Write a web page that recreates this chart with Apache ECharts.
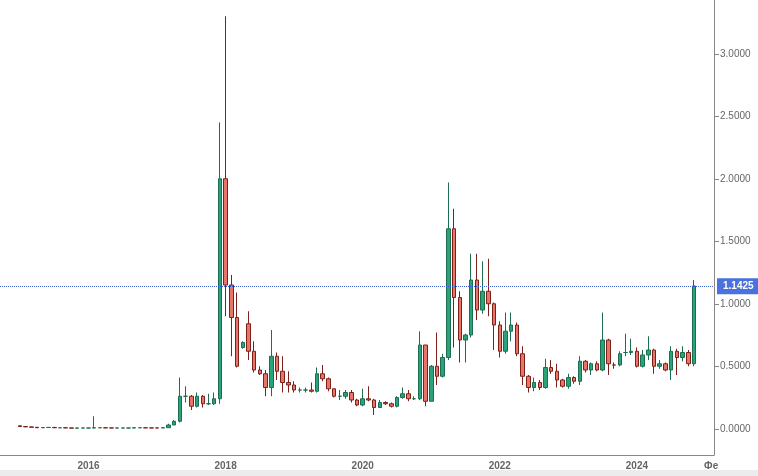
<!DOCTYPE html>
<html>
<head>
<meta charset="utf-8">
<script src="https://cdn.jsdelivr.net/npm/echarts@6/dist/echarts.min.js"></script>
<style>
  html, body { margin: 0; padding: 0; background: #fff; }
  #chart { width: 758px; height: 476px; }
</style>
</head>
<body>
<div id="chart"></div>
<script>
// monthly candles, Jan 2015 .. Nov 2024
const opens = [
  .024, .018, .015, .012, .008, .010, .011, .008, .008, .007, .005, .006,
  .006, .006, .008, .008, .007, .006, .006, .006, .006, .008, .008, .007,
  .0065, .0063, .0084, .03, .06, .26, .26, .18, .26, .20, .20, .24,
  2.0, 1.15, .89, .65, .84, .62, .47, .44, .33, .58, .46, .37,
  .35, .31, .31, .31, .30, .44, .40, .32, .26, .26, .29, .23,
  .19, .24, .23, .17, .21, .20, .18, .25, .28, .24, .24, .67,
  .22, .50, .42, .57, 1.60, 1.05, .71, .75, 1.19, .95, 1.10, 1.00,
  .83, .62, .78, .83, .60, .42, .33, .37, .33, .49, .46, .39,
  .34, .41, .38, .54, .47, .52, .47, .71, .51, .51, .61, .61,
  .62, .50, .59, .63, .50, .52, .47, .62, .57, .61, .52
];
const closes = [
  .018, .015, .012, .008, .010, .011, .008, .008, .007, .005, .006, .006,
  .006, .008, .008, .007, .006, .006, .006, .006, .008, .008, .007, .0065,
  .0063, .0084, .03, .06, .26, .26, .18, .26, .20, .20, .24, 2.0,
  1.15, .89, .50, .69, .62, .47, .44, .33, .58, .46, .37, .35,
  .31, .31, .31, .30, .44, .40, .32, .26, .26, .29, .23, .19,
  .24, .23, .17, .21, .20, .18, .25, .28, .24, .24, .67, .22,
  .50, .42, .57, 1.60, 1.05, .71, .75, 1.19, .95, 1.10, 1.00, .83,
  .62, .78, .83, .60, .42, .33, .37, .33, .49, .46, .39, .34,
  .41, .38, .54, .47, .52, .47, .71, .52, .51, .60, .61, .62,
  .50, .59, .63, .50, .52, .47, .62, .57, .61, .52, 1.1425
];
const lows = [
  .015, .013, .010, .007, .007, .009, .007, .006, .006, .005, .004, .005,
  .005, .005, .007, .006, .005, .005, .005, .005, .006, .007, .006, .006,
  .006, .006, .008, .03, .05, .21, .15, .17, .17, .19, .19, .20,
  .90, .58, .49, .64, .55, .45, .43, .26, .26, .39, .29, .29,
  .29, .29, .29, .29, .29, .38, .30, .25, .23, .24, .21, .18,
  .18, .22, .11, .17, .19, .17, .17, .24, .22, .23, .23, .18,
  .22, .35, .41, .55, .65, .53, .53, .73, .87, .92, .90, .63,
  .57, .60, .70, .58, .35, .29, .30, .31, .32, .44, .33, .33,
  .32, .36, .35, .45, .43, .46, .46, .43, .48, .50, .58, .59,
  .49, .49, .55, .44, .48, .46, .39, .43, .54, .50, .50
];
const highs = [
  .025, .019, .016, .013, .011, .012, .012, .009, .009, .008, .007, .007,
  .007, .100, .010, .009, .008, .007, .007, .007, .009, .009, .009, .008,
  .008, .011, .04, .07, .41, .34, .27, .29, .27, .28, .29, 2.45,
  3.30, 1.23, 1.09, .70, .94, .70, .50, .47, .79, .61, .58, .46,
  .38, .33, .33, .37, .49, .51, .41, .32, .31, .31, .31, .24,
  .32, .34, .24, .23, .22, .21, .26, .33, .31, .26, .78, .67,
  .51, .77, .60, 1.97, 1.76, 1.10, .76, 1.40, 1.40, 1.34, 1.36, 1.01,
  .86, .93, .93, .85, .66, .43, .41, .39, .56, .55, .52, .40,
  .44, .42, .58, .55, .53, .54, .93, .72, .53, .62, .76, .72,
  .65, .63, .74, .64, .55, .53, .66, .64, .66, .63, 1.19
];
const yTicks = [0, 0.5, 1.0, 1.5, 2.0, 2.5, 3.0];
const lastPrice = 1.1425;

// categories Oct 2014 .. Feb 2025 (3 empty months before, 3 after)
const months = [];
for (let i = 0; i < 125; i++) {
  const y = 2014 + Math.floor((9 + i) / 12);
  const m = (9 + i) % 12;
  months.push(y + '-' + String(m + 1).padStart(2, '0'));
}
const pad = 3;
const candles = months.map((_, i) => {
  const k = i - pad;
  if (k < 0 || k >= opens.length) return '-';
  return [opens[k], closes[k], lows[k], highs[k]];
});

function labelOf(cat) {
  const [y, m] = cat.split('-');
  if (m === '01' && +y % 2 === 0) return y;
  if (cat === '2025-02') return 'Фе';
  return '';
}

const chart = echarts.init(document.getElementById('chart'));
chart.setOption({
  animation: false,
  grid: { left: 0, right: 44, top: 0, bottom: 21 },
  graphic: [{
    type: 'rect', left: 0, bottom: 0,
    shape: { width: 758, height: 6 },
    style: { fill: '#ececec' }, silent: true
  }],
  xAxis: {
    type: 'category',
    data: months,
    boundaryGap: true,
    axisLine: { onZero: false, lineStyle: { color: '#888' } },
    axisTick: {
      alignWithLabel: true,
      interval: (i, v) => labelOf(v) !== '',
      lineStyle: { color: '#888' }
    },
    axisLabel: {
      interval: (i, v) => labelOf(v) !== '',
      formatter: v => labelOf(v),
      color: '#666', fontWeight: 'bold', fontSize: 10,
      fontFamily: 'Arial, "Liberation Sans", sans-serif', margin: 6
    },
    splitLine: { show: false }
  },
  yAxis: {
    type: 'value',
    position: 'right',
    min: -0.21, max: 3.43,
    axisLine: { show: true, lineStyle: { color: '#888' } },
    axisTick: { show: true, customValues: yTicks, lineStyle: { color: '#888' } },
    axisLabel: {
      customValues: yTicks,
      formatter: v => v.toFixed(4),
      color: '#666', fontSize: 10, margin: 6,
      fontFamily: 'Arial, "Liberation Sans", sans-serif'
    },
    splitLine: { show: false }
  },
  series: [{
    type: 'candlestick',
    data: candles,
    barWidth: 4,
    itemStyle: {
      color: '#2aa37a', borderColor: '#1d6e50',
      color0: '#e8756a', borderColor0: '#7d2019',
      borderWidth: 1
    },
    markLine: {
      silent: true,
      symbol: 'none',
      data: [{ yAxis: lastPrice }],
      lineStyle: { color: '#3a5fcd', type: 'dotted', width: 1 },
      label: {
        position: 'end',
        distance: 3,
        formatter: lastPrice.toFixed(4),
        color: '#fff', backgroundColor: '#4a72dc',
        fontSize: 10, fontWeight: 'bold', padding: [3, 6, 3, 6],
        fontFamily: 'Arial, "Liberation Sans", sans-serif'
      }
    }
  }]
});
</script>
</body>
</html>
